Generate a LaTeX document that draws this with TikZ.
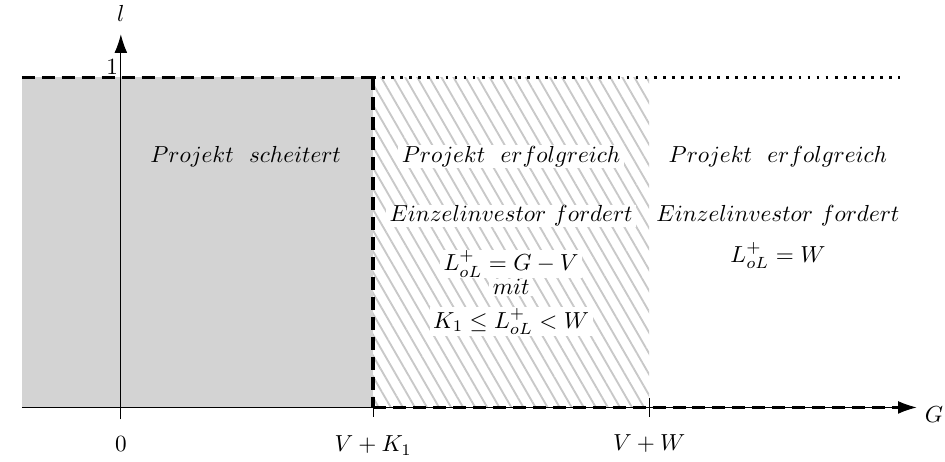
\documentclass[tikz,border=0pt]{standalone}
\usepackage{amsmath, amssymb}
\usepackage{xcolor}
\usepackage{tikz}
\usetikzlibrary{positioning, arrows.meta, calc, patterns.meta}
\definecolor{failgray}{RGB}{211,211,211}
\definecolor{hatchgray}{RGB}{200,200,200}

\begin{document}
\begin{tikzpicture}[every node/.style={font=\normalsize},
    axisarrow/.style={-{Latex[length=8pt,width=5.5pt]}},
    borderline/.style={line width=1.4pt, dash pattern=on 5.6pt off 3pt},
    dotline/.style={line width=1.1pt, dash pattern=on 1.2pt off 2.7pt},
    whitebox/.style={fill=white, inner xsep=1.5pt, inner ysep=0.4pt}]
  \useasboundingbox (-1.83,-0.82) rectangle (12.48,6.17);
  % Key points
  \coordinate (O) at (0,0);
  \coordinate (xs) at (-1.5,0);
  \coordinate (xe) at (12.05,0);
  \coordinate (xd) at (11.8,0);
  \coordinate (yb) at (0,-0.18);
  \coordinate (ye) at (0,5.65);
  \coordinate (vk) at (3.82,0);
  \coordinate (vktop) at (3.82,5);
  \coordinate (vw) at (8,0);
  \coordinate (tl) at (-1.5,5);
  \coordinate (tr) at (11.8,5);

  % Regions
  \fill[failgray] (xs) rectangle (vktop);
  \fill[pattern={Lines[angle=-60, distance=4.5pt, line width=0.8pt]}, pattern color=hatchgray]
    (vk) rectangle (8,5);

  % Axes
  \draw[axisarrow] (xs) -- (xe) node[right, yshift=-3pt] (glab) {$G$};
  \draw[axisarrow] (yb) -- (ye) node[above=2pt] (llab) {$l$};
  \draw (vk) -- ++(0,-0.15);
  \draw (vw) ++(0,0.15) -- ++(0,-0.3);

  % Borders
  \draw[borderline] (tl) -- (vktop);
  \draw[borderline] (vktop) -- (vk);
  \draw[borderline] (vk) -- (xd);
  \draw[dotline] (vktop) -- (tr);

  % Tick labels
  \node[above left, inner sep=1pt] (one) at (0,5) {$1$};
  \node (zero) at (0,-0.55) {$0$};
  \node (vklab) at (3.82,-0.58) {$V+K_1$};
  \node (vwlab) at (8,-0.55) {$V+W$};

  % Region texts
  \node (fail) at (1.89,3.8) {$Projekt\ \ scheitert$};
  \node[whitebox] (succa) at (5.91,3.8) {$Projekt\ \ erfolgreich$};
  \node[whitebox] (inva) at (5.91,2.9) {$Einzelinvestor\ fordert$};
  \node[whitebox] (loana) at (5.91,2.17) {$L_{oL}^{+}=G-V$};
  \node[whitebox] (mit) at (5.91,1.82) {$mit$};
  \node[whitebox] (bound) at (5.91,1.3) {$K_1\leq L_{oL}^{+}<W$};
  \node (succb) at (9.95,3.8) {$Projekt\ \ erfolgreich$};
  \node (invb) at (9.95,2.9) {$Einzelinvestor\ fordert$};
  \node (loanb) at (9.95,2.3) {$L_{oL}^{+}=W$};
\end{tikzpicture}
\end{document}
